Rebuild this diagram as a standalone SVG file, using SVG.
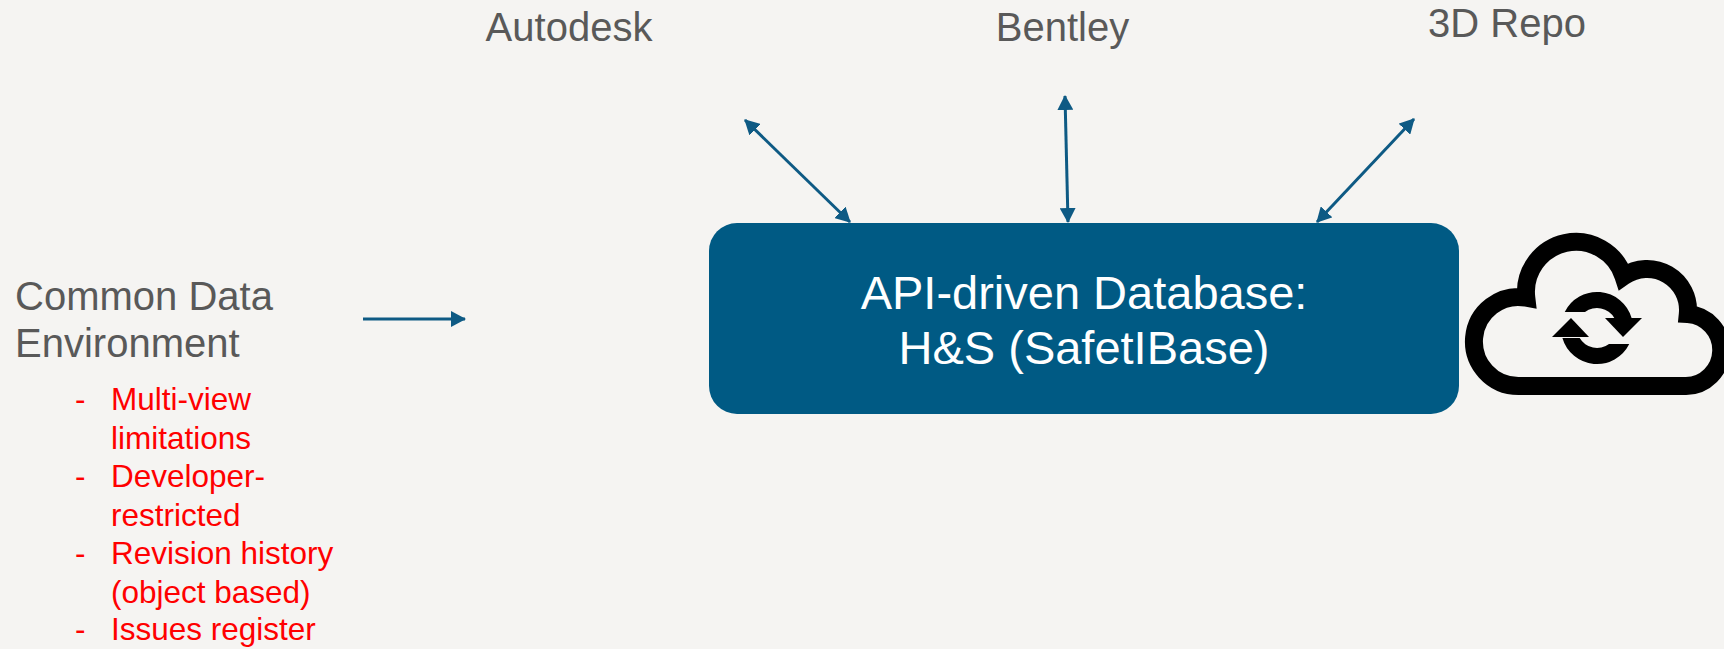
<svg xmlns="http://www.w3.org/2000/svg" width="1724" height="649" viewBox="0 0 1724 649">
  <style>
    .lbl { font-family: "Liberation Sans", Arial, sans-serif; font-size: 40px; fill: #595959; }
    .box { font-family: "Liberation Sans", Arial, sans-serif; font-size: 47px; fill: #FFFFFF; text-anchor: middle; }
    .red { font-family: "Liberation Sans", Arial, sans-serif; font-size: 31.5px; fill: #FF0000; }
    .conn { stroke: #0E5A84; stroke-width: 3; fill: none; }
  </style>
  <defs>
    <marker id="ah" viewBox="0 0 15 16" refX="14" refY="8" markerWidth="15" markerHeight="16" markerUnits="userSpaceOnUse" orient="auto-start-reverse">
      <path d="M0,0 L15,8 L0,16 Z" fill="#0E5A84"/>
    </marker>
  </defs>
  <rect x="0" y="0" width="1724" height="649" fill="#F5F4F2"/>

  <g id="autodesk"><text class="lbl" x="569" y="41" text-anchor="middle">Autodesk</text></g>
  <g id="bentley"><text class="lbl" x="1062.5" y="41" text-anchor="middle">Bentley</text></g>
  <g id="repo3d"><text class="lbl" x="1507" y="37" text-anchor="middle">3D Repo</text></g>

  <g id="cde">
    <text class="lbl" x="15" y="310">Common Data</text>
    <text class="lbl" x="15" y="357">Environment</text>
    <g class="red">
      <text x="75" y="410">-</text><text x="111" y="410">Multi-view</text>
      <text x="111" y="449">limitations</text>
      <text x="75" y="487">-</text><text x="111" y="487">Developer-</text>
      <text x="111" y="526">restricted</text>
      <text x="75" y="564">-</text><text x="111" y="564">Revision history</text>
      <text x="111" y="603">(object based)</text>
      <text x="75" y="640">-</text><text x="111" y="640">Issues register</text>
    </g>
  </g>

  <g id="database">
    <rect x="709" y="223" width="750" height="191" rx="28" ry="28" fill="#005A84"/>
    <text class="box" x="1084" y="309">API-driven Database:</text>
    <text class="box" x="1084" y="364">H&amp;S (SafetIBase)</text>
  </g>

  <g id="cloud">
    <path d="M1686,386 L1518.5,386 A44.5,44.5 0 1 1 1526.3,297.7 A50,50 0 0 1 1623.5,276.4 A41,41 0 0 1 1687.8,314.1 A36,36 0 0 1 1686,386 Z" fill="none" stroke="#000000" stroke-width="18" stroke-linejoin="miter" stroke-miterlimit="4"/>
    <g fill="#000000">
      <path d="M1564.75,312 A36,36 0 0 1 1631.6,318 L1614.3,318 A20,20 0 0 0 1585,312 Z"/>
      <path d="M1629.25,344 A36,36 0 0 1 1562.4,338 L1579.7,338 A20,20 0 0 0 1609,344 Z"/>
      <path d="M1605,318 L1642,318 L1623,337 Z"/>
      <path d="M1552,337 L1589,337 L1571,318 Z"/>
    </g>
  </g>

  <g id="connectors">
    <line class="conn" x1="363" y1="319" x2="465" y2="319" marker-end="url(#ah)"/>
    <line class="conn" x1="745" y1="120" x2="850" y2="222" marker-start="url(#ah)" marker-end="url(#ah)"/>
    <line class="conn" x1="1065" y1="96" x2="1068" y2="222" marker-start="url(#ah)" marker-end="url(#ah)"/>
    <line class="conn" x1="1414" y1="119" x2="1317" y2="222" marker-start="url(#ah)" marker-end="url(#ah)"/>
  </g>
</svg>
